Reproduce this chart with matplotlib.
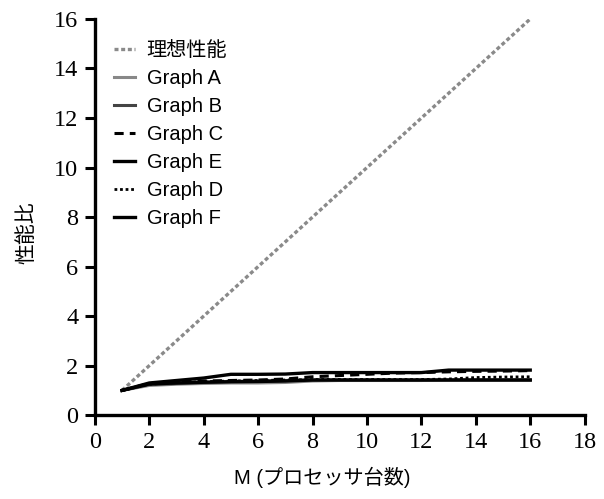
import matplotlib
matplotlib.use("Agg")
import matplotlib.pyplot as plt

plt.rcParams['font.family'] = ['Liberation Sans', 'Noto Sans CJK JP']

m = [1, 2, 3, 4, 5, 6, 7, 8, 9, 10, 11, 12, 13, 14, 15, 16]
ideal = [1, 2, 3, 4, 5, 6, 7, 8, 9, 10, 11, 12, 13, 14, 15, 16]
graph_a = [1.0, 1.2, 1.25, 1.28, 1.3, 1.3, 1.32, 1.38, 1.4, 1.4, 1.4, 1.4, 1.42, 1.42, 1.42, 1.42]
graph_b = [1.0, 1.24, 1.28, 1.32, 1.36, 1.38, 1.4, 1.42, 1.42, 1.42, 1.42, 1.42, 1.42, 1.42, 1.42, 1.42]
graph_c = [1.0, 1.28, 1.34, 1.38, 1.4, 1.42, 1.46, 1.55, 1.6, 1.65, 1.7, 1.72, 1.75, 1.77, 1.78, 1.8]
graph_e = [1.0, 1.26, 1.3, 1.33, 1.35, 1.36, 1.38, 1.42, 1.42, 1.42, 1.42, 1.42, 1.42, 1.42, 1.42, 1.42]
graph_d = [1.0, 1.25, 1.32, 1.35, 1.38, 1.4, 1.42, 1.44, 1.44, 1.44, 1.44, 1.44, 1.46, 1.52, 1.54, 1.55]
graph_f = [1.0, 1.3, 1.4, 1.5, 1.65, 1.65, 1.66, 1.72, 1.72, 1.72, 1.72, 1.72, 1.82, 1.82, 1.82, 1.82]

fig = plt.figure(figsize=(6.04, 4.99), dpi=100)
ax = fig.add_axes([0.157, 0.168, 0.811, 0.794])

ax.plot(m, ideal, color='#8a8a8a', lw=2.4, dashes=(1.2, 0.8), label='理想性能')
ax.plot(m, graph_a, color='#888888', lw=2.2, label='Graph A')
ax.plot(m, graph_b, color='#444444', lw=2.2, label='Graph B')
ax.plot(m, graph_c, color='black', lw=2.2, dashes=(3, 2), label='Graph C')
ax.plot(m, graph_e, color='black', lw=2.4, label='Graph E')
ax.plot(m, graph_d, color='black', lw=2, dashes=(1, 1), label='Graph D')
ax.plot(m, graph_f, color='black', lw=2.4, label='Graph F')

ax.set_xlim(0, 18)
ax.set_ylim(0, 16)
ax.set_xticks(range(0, 19, 2))
ax.set_yticks(range(0, 17, 2))
for s in ['top', 'right']:
    ax.spines[s].set_visible(False)
for s in ['left', 'bottom']:
    ax.spines[s].set_linewidth(2.4)
ax.tick_params(width=2.2, length=7.5, direction='out', pad=4.5)
for lbl in ax.get_xticklabels() + ax.get_yticklabels():
    lbl.set_fontfamily('Liberation Serif')
    lbl.set_fontsize(17.5)

ax.set_xlabel('M (プロセッサ台数)', fontsize=14.5, labelpad=6)
ax.xaxis.set_label_coords(0.465, -0.13)
ax.set_ylabel('性能比', fontsize=15)
ax.yaxis.set_label_coords(-0.12, 0.46)

ax.legend(loc='upper left', frameon=False, fontsize=14.5, handlelength=1.0,
          labelspacing=0.45, handletextpad=0.6, bbox_to_anchor=(0.003, 0.99))

fig.savefig('out.png', dpi=100)
